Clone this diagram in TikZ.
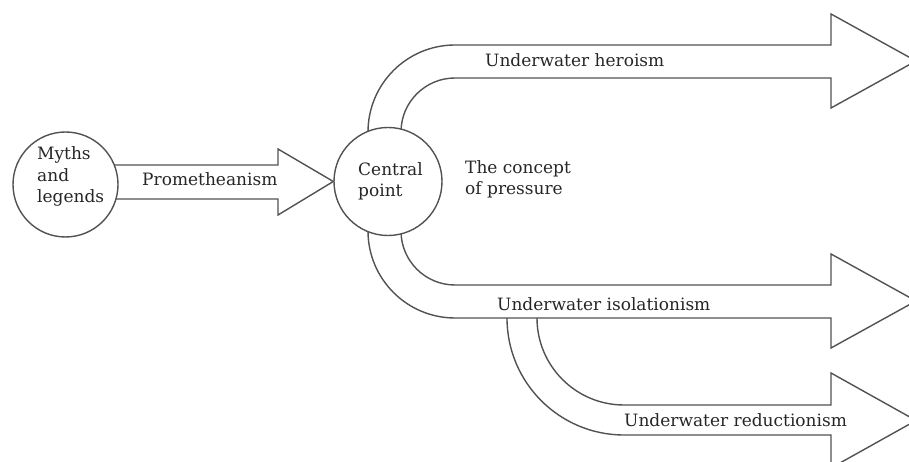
\documentclass[tikz,border=0pt]{standalone}
\usepackage{fontspec}
\setmainfont{DejaVu Serif}
\usetikzlibrary{calc}
\pgfdeclarelayer{background}
\pgfsetlayers{background,main}
\begin{document}
\begin{tikzpicture}[x=1pt,y=1pt,
  blockarrow/.style={draw=black!68, line width=1.4pt, fill=white, line join=miter},
  ring/.style={circle, draw=black!68, line width=1.4pt, fill=white, inner sep=0pt},
  lbl/.style={font=\fontsize{17}{21.5}\selectfont, text=black!85, inner sep=0pt, anchor=base west, align=left}]
\useasboundingbox (0,0) rectangle (909,462);

% circles
\node[ring, minimum size=105pt] (myths) at (65.5,277.5) {};
\node[ring, minimum size=108pt] (central) at (388,280.5) {};

% texts (base = baseline of last line)
\node[lbl] (tmyths) at (37,259) {Myths\\and\\legends};
\node[lbl] (tcentral) at (358,265) {Central\\point};
\node[lbl] (tconcept) at (465,267) {The concept\\of pressure};
\node[lbl] (tprom) at (142,276) {Prometheanism};
\node[lbl] (thero) at (485,395) {Underwater heroism};
\node[lbl] (tiso) at (497,151) {Underwater isolationism};
\node[lbl] (tred) at (624,35) {Underwater reductionism};

\begin{pgfonlayer}{background}
% reduction
\draw[blockarrow] (507,150) -- (507,144) arc[start angle=180,end angle=270,radius=117]
  -- (831,27) -- (831,-6) -- (916,41.5) -- (831,89) -- (831,57) -- (624,57)
  arc[start angle=270,end angle=180,radius=87] -- (537,150) -- cycle;
% isolation
\draw[blockarrow] (central.center -| 368,0) -- (368,231) arc[start angle=180,end angle=270,radius=87]
  -- (831,144) -- (831,114) -- (916,161) -- (831,208) -- (831,177) -- (455,177)
  arc[start angle=270,end angle=180,radius=54] -- (central.center -| 401,0) -- cycle;
% heroism
\draw[blockarrow] (central.center -| 368,0) -- (368,330) arc[start angle=180,end angle=90,radius=87]
  -- (831,417) -- (831,448) -- (916,401) -- (831,354) -- (831,384) -- (455,384)
  arc[start angle=90,end angle=180,radius=54] -- (central.center -| 401,0) -- cycle;
% prometheanism
\draw[blockarrow] (myths.center |- 0,297) -- (278,297) -- (278,313) -- (central.west)
  -- (278,247) -- (278,263) -- (myths.center |- 0,263) -- cycle;
\end{pgfonlayer}
\end{tikzpicture}
\end{document}
